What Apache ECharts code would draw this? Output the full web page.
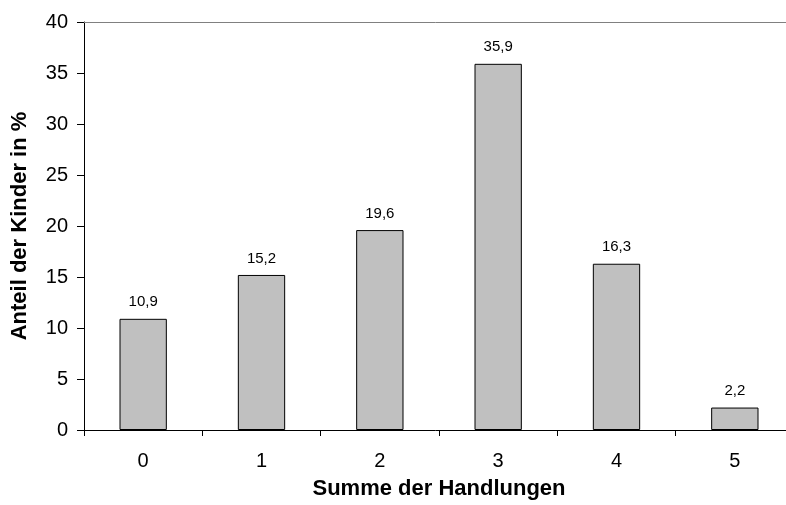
<!DOCTYPE html>
<html>
<head>
<meta charset="utf-8">
<script src="https://cdn.jsdelivr.net/npm/echarts@6/dist/echarts.min.js"></script>
<style>
  html, body { margin: 0; padding: 0; background: #fff; }
  #chart { width: 786px; height: 505px; }
</style>
</head>
<body>
<div id="chart"></div>
<script>
// Anzahl der Handlungen (0–5) und Anteil der Kinder in Prozent
const categories = ['0', '1', '2', '3', '4', '5'];
const shares = [10.9, 15.2, 19.6, 35.9, 16.3, 2.2];
const yTicks = { min: 0, max: 40, interval: 5 };

const font = '"Liberation Sans", Arial, sans-serif';
const chart = echarts.init(document.getElementById('chart'), null, { renderer: 'canvas' });

chart.setOption({
  animation: false,
  backgroundColor: '#ffffff',
  // Diagrammbereich läuft rechts über den Bildrand hinaus
  grid: { left: 84, top: 22, width: 710, height: 408, containLabel: false, outerBoundsMode: 'none' },
  xAxis: [
    {
      type: 'category',
      data: categories,
      name: 'Summe der Handlungen',
      nameLocation: 'middle',
      nameGap: 48,
      nameTextStyle: { fontFamily: font, fontSize: 22, fontWeight: 'bold', color: '#000' },
      axisLine: { lineStyle: { color: '#000', width: 1 } },
      axisTick: { show: true, alignWithLabel: false, length: 6, lineStyle: { color: '#000' } },
      axisLabel: { fontFamily: font, fontSize: 20, color: '#000', margin: 21 },
      splitLine: { show: false }
    },
    {
      // obere Begrenzungslinie des Diagrammbereichs
      type: 'category',
      data: categories,
      position: 'top',
      axisLine: { lineStyle: { color: '#808080', width: 1 } },
      axisTick: { show: false },
      axisLabel: { show: false },
      splitLine: { show: false }
    }
  ],
  yAxis: {
    type: 'value',
    min: yTicks.min,
    max: yTicks.max,
    interval: yTicks.interval,
    name: 'Anteil der Kinder in %',
    nameLocation: 'middle',
    nameGap: 53,
    nameRotate: 90,
    nameTextStyle: { fontFamily: font, fontSize: 22, fontWeight: 'bold', color: '#000' },
    axisLine: { show: true, lineStyle: { color: '#000', width: 1 } },
    axisTick: { show: true, length: 7, lineStyle: { color: '#000' } },
    axisLabel: { fontFamily: font, fontSize: 20, color: '#000', margin: 16 },
    splitLine: { show: false }
  },
  series: [{
    type: 'bar',
    data: shares,
    barWidth: '40%',
    itemStyle: { color: '#c0c0c0', borderColor: '#000', borderWidth: 1 },
    label: {
      show: true,
      position: 'top',
      distance: 9,
      fontFamily: font,
      fontSize: 15,
      color: '#000',
      formatter: p => String(p.value).replace('.', ',')
    }
  }]
});
</script>
</body>
</html>
